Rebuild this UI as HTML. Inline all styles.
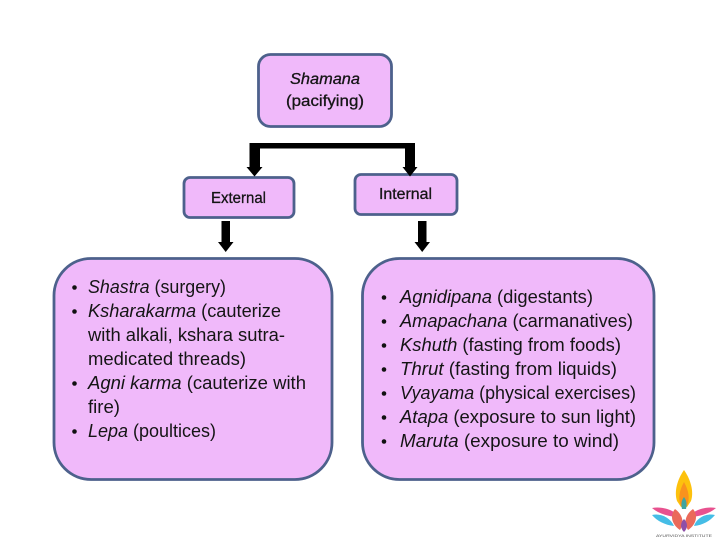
<!DOCTYPE html>
<html><head><meta charset="utf-8"><style>
html,body{margin:0;padding:0;background:#fff}
svg{display:block}
text{font-family:"Liberation Sans",sans-serif;font-size:18px;fill:#151515}
.s{font-size:15.500px;stroke:#151515;stroke-width:.3px}
</style></head><body>
<svg width="720" height="540" viewBox="0 0 720 540" xmlns="http://www.w3.org/2000/svg">
<rect width="720" height="540" fill="#fff"/>
<g fill="#f0b9fa" stroke="#4d618c" stroke-width="2.800">
<rect x="258.500" y="54.500" width="133" height="72" rx="12"/>
<rect x="184" y="177.500" width="110" height="40" rx="6"/>
<rect x="355" y="174.500" width="102" height="40" rx="6"/>
<rect x="54" y="258.500" width="278" height="221" rx="37"/>
<rect x="362.500" y="258.500" width="291.500" height="221" rx="37"/>
</g>
<g fill="#000">
<path d="M249.500 143H415V167H417.500L410 176.500L402.500 167H405V148.500H260V167H262.500L254.500 176.500L246.500 167H249.500Z"/>
<path d="M221.500 221H230V242H233.500L225.700 252L218 242H221.500Z"/>
<path d="M418 221H426.500V242H430L422.200 252L414.500 242H418Z"/>
</g>
<text x="290" y="84" font-style="italic" class="s" textLength="70" lengthAdjust="spacingAndGlyphs">Shamana</text>
<text x="286" y="106" class="s" textLength="78" lengthAdjust="spacingAndGlyphs">(pacifying)</text>
<text x="211" y="203" class="s" textLength="55" lengthAdjust="spacingAndGlyphs">External</text>
<text x="379" y="199" class="s" textLength="53" lengthAdjust="spacingAndGlyphs">Internal</text>

<g fill="#111">
<circle cx="74.500" cy="287.500" r="2.300"/><circle cx="74.500" cy="311.500" r="2.300"/><circle cx="74.500" cy="383.500" r="2.300"/><circle cx="74.500" cy="431.500" r="2.300"/>
<circle cx="384" cy="297.500" r="2.300"/><circle cx="384" cy="321.500" r="2.300"/><circle cx="384" cy="345.500" r="2.300"/><circle cx="384" cy="369.500" r="2.300"/><circle cx="384" cy="393.500" r="2.300"/><circle cx="384" cy="417.500" r="2.300"/><circle cx="384" cy="441.500" r="2.300"/>
</g>

<text x="88" y="293" textLength="138" lengthAdjust="spacingAndGlyphs"><tspan font-style="italic">Shastra</tspan> (surgery)</text>
<text x="88" y="317" textLength="193" lengthAdjust="spacingAndGlyphs"><tspan font-style="italic">Ksharakarma</tspan> (cauterize</text>
<text x="88" y="341" textLength="197" lengthAdjust="spacingAndGlyphs">with alkali, kshara sutra-</text>
<text x="88" y="365" textLength="158" lengthAdjust="spacingAndGlyphs">medicated threads)</text>
<text x="88" y="389" textLength="218" lengthAdjust="spacingAndGlyphs"><tspan font-style="italic">Agni karma</tspan> (cauterize with</text>
<text x="88" y="413" textLength="32" lengthAdjust="spacingAndGlyphs">fire)</text>
<text x="88" y="437" textLength="128" lengthAdjust="spacingAndGlyphs"><tspan font-style="italic">Lepa</tspan> (poultices)</text>

<text x="400" y="303" textLength="193" lengthAdjust="spacingAndGlyphs"><tspan font-style="italic">Agnidipana</tspan> (digestants)</text>
<text x="400" y="327" textLength="233" lengthAdjust="spacingAndGlyphs"><tspan font-style="italic">Amapachana</tspan> (carmanatives)</text>
<text x="400" y="351" textLength="221" lengthAdjust="spacingAndGlyphs"><tspan font-style="italic">Kshuth</tspan> (fasting from foods)</text>
<text x="400" y="375" textLength="217" lengthAdjust="spacingAndGlyphs"><tspan font-style="italic">Thrut</tspan> (fasting from liquids)</text>
<text x="400" y="399" textLength="236" lengthAdjust="spacingAndGlyphs"><tspan font-style="italic">Vyayama</tspan> (physical exercises)</text>
<text x="400" y="423" textLength="236" lengthAdjust="spacingAndGlyphs"><tspan font-style="italic">Atapa</tspan> (exposure to sun light)</text>
<text x="400" y="447" textLength="219" lengthAdjust="spacingAndGlyphs"><tspan font-style="italic">Maruta</tspan> (exposure to wind)</text>

<!-- logo -->
<path d="M684 470C677 480 674 492 677 501L681 507H687L691 501C694 492 691 480 684 470Z" fill="#fdc10d"/>
<path d="M684 482C679 491 678 499 681 506H687C690 499 689 491 684 482Z" fill="#f9921e"/>
<path d="M684 497C681 501 681 505 682 509H686C687 505 687 501 684 497Z" fill="#3fa5a0"/>
<path d="M652 508C662 506 674 510 680 517C670 517 659 514 652 508Z" fill="#e8518f"/>
<path d="M716 508C706 506 694 510 688 517C698 517 709 514 716 508Z" fill="#e8518f"/>
<path d="M652 515C660 513 670 517 674 526C665 525 657 521 652 515Z" fill="#45bde6"/>
<path d="M715 515C707 513 697 517 694 526C703 525 710 521 715 515Z" fill="#45bde6"/>
<path d="M675 509C670 515 671 524 680 530C685 522 682 514 675 509Z" fill="#ea6a5a"/>
<path d="M693 509C698 515 697 524 688 530C683 522 686 514 693 509Z" fill="#ea6a5a"/>
<path d="M684 519C680 523 680 528 684 532C688 528 688 523 684 519Z" fill="#8e4fa8"/>
<text x="656" y="537" style="font-size:4px;fill:#555" textLength="56" lengthAdjust="spacingAndGlyphs">AYURVIDYA INSTITUTE</text>
</svg>
</body></html>
